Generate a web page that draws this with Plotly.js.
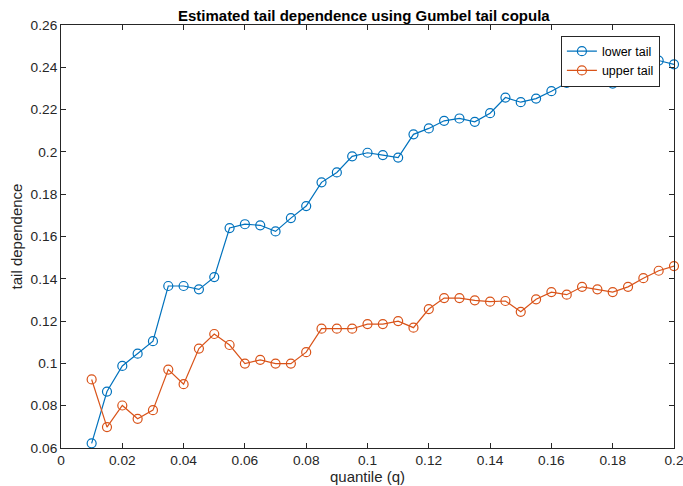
<!DOCTYPE html>
<html>
<head>
<meta charset="utf-8">
<script src="https://cdn.plot.ly/plotly-3.0.1.min.js"></script>
<style>html,body{margin:0;padding:0;background:#fff;}#chart{width:683px;height:486px;}</style>
</head>
<body>
<div id="chart"></div>
<script>
var quantile = [0.01,0.015,0.02,0.025,0.03,0.035,0.04,0.045,0.05,0.055,0.06,0.065,0.07,0.075,0.08,0.085,0.09,0.095,0.1,0.105,0.11,0.115,0.12,0.125,0.13,0.135,0.14,0.145,0.15,0.155,0.16,0.165,0.17,0.175,0.18,0.185,0.19,0.195,0.2];
var lowerTail = [0.0622,0.0867,0.0988,0.1046,0.1105,0.1366,0.1366,0.1350,0.1408,0.1640,0.1658,0.1653,0.1624,0.1687,0.1744,0.1856,0.1903,0.1979,0.1996,0.1985,0.1973,0.2083,0.2111,0.2147,0.2158,0.2142,0.2183,0.2257,0.2235,0.2252,0.2287,0.2326,0.2343,0.2343,0.2323,0.2397,0.2403,0.2432,0.2414];
var upperTail = [0.0924,0.0699,0.0801,0.0738,0.0779,0.0971,0.0902,0.1070,0.1139,0.1087,0.0999,0.1017,0.0999,0.0999,0.1053,0.1164,0.1164,0.1164,0.1186,0.1186,0.1200,0.1169,0.1257,0.1309,0.1309,0.1298,0.1292,0.1295,0.1244,0.1303,0.1337,0.1325,0.1362,0.1350,0.1337,0.1362,0.1403,0.1438,0.1460];
var xTickVals = [0,0.02,0.04,0.06,0.08,0.1,0.12,0.14,0.16,0.18,0.2];
var xTickText = ["0","0.02","0.04","0.06","0.08","0.1","0.12","0.14","0.16","0.18","0.2"];
var yTickVals = [0.06,0.08,0.1,0.12,0.14,0.16,0.18,0.2,0.22,0.24,0.26];
var yTickText = ["0.06","0.08","0.1","0.12","0.14","0.16","0.18","0.2","0.22","0.24","0.26"];

var axisColor = '#262626';
var font = 'Liberation Sans, Arial, Helvetica, sans-serif';

var traces = [
  {x: quantile, y: lowerTail, name: 'lower tail', type: 'scatter', mode: 'lines+markers', cliponaxis: false,
   line: {color: '#0072BD', width: 1.2},
   marker: {symbol: 'circle-open', size: 9, color: '#0072BD', line: {width: 1.2, color: '#0072BD'}}},
  {x: quantile, y: upperTail, name: 'upper tail', type: 'scatter', mode: 'lines+markers', cliponaxis: false,
   line: {color: '#D95319', width: 1.2},
   marker: {symbol: 'circle-open', size: 9, color: '#D95319', line: {width: 1.2, color: '#D95319'}}}
];

var axisCommon = {
  showgrid: false, zeroline: false, showline: true, linecolor: axisColor, linewidth: 1,
  mirror: 'ticks', ticks: 'inside', ticklen: 5, tickcolor: axisColor, tickwidth: 1,
  ticklabeloverflow: 'allow',
  tickfont: {family: font, size: 13.7, color: axisColor}
};

var layout = {
  width: 683, height: 486,
  margin: {l: 61, r: 9, t: 24.5, b: 38, pad: 0},
  paper_bgcolor: '#fff', plot_bgcolor: '#fff',
  font: {family: font, color: axisColor},
  title: {text: '<b>Estimated tail dependence using Gumbel tail copula</b>',
          font: {family: font, size: 15, color: '#000'},
          x: 0.494, xref: 'paper', y: 0.968, yref: 'container', yanchor: 'middle'},
  xaxis: Object.assign({}, axisCommon, {
    range: [0, 0.2], tickmode: 'array', tickvals: xTickVals, ticktext: xTickText,
    title: {text: 'quantile (q)', font: {family: font, size: 15, color: axisColor}, standoff: 0}
  }),
  yaxis: Object.assign({}, axisCommon, {
    range: [0.06, 0.26], tickmode: 'array', tickvals: yTickVals, ticktext: yTickText,
    title: {text: 'tail dependence', font: {family: font, size: 15, color: axisColor}, standoff: 4}
  }),
  showlegend: true,
  legend: {x: 0.977, y: 0.975, xanchor: 'right', yanchor: 'top',
           bgcolor: '#fff', bordercolor: axisColor, borderwidth: 1,
           font: {family: font, size: 12.5, color: '#000'},
           tracegroupgap: 0, itemwidth: 30}
};

Plotly.newPlot('chart', traces, layout, {displayModeBar: false, staticPlot: true});
</script>
</body>
</html>
